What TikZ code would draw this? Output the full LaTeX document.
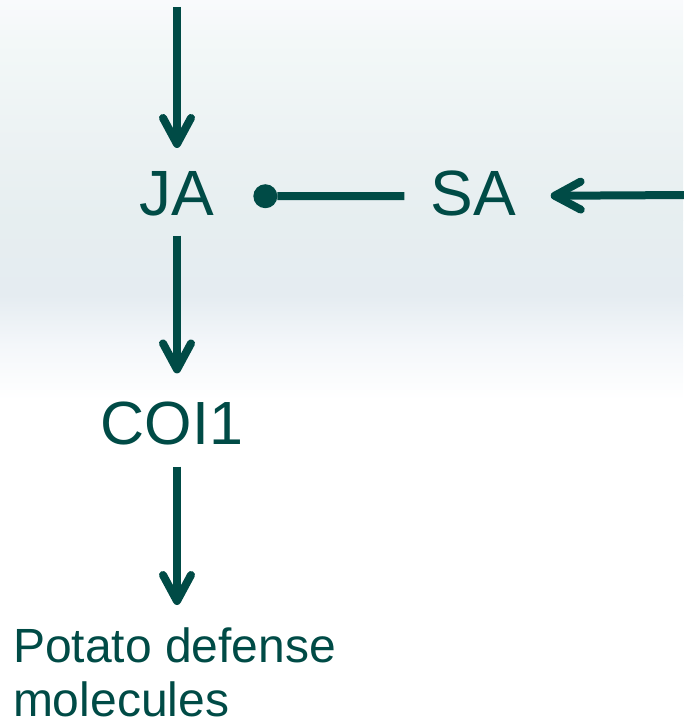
\documentclass[tikz,border=0pt]{standalone}
\usepackage{fontspec}
\setmainfont{Liberation Sans}
\usetikzlibrary{arrows.meta}
\definecolor{pathteal}{HTML}{004B46}
\definecolor{bgA}{HTML}{F9FAFC}
\definecolor{bgB}{HTML}{F3F8F8}
\definecolor{bgC}{HTML}{ECF2F3}
\definecolor{bgD}{HTML}{E6EEF0}
\definecolor{bgE}{HTML}{E5ECF1}
\definecolor{bgF}{HTML}{F4F7FA}
\begin{document}
\begin{tikzpicture}[x=1pt,y=-1pt,
  lbl/.style={text=pathteal, inner sep=0pt, outer sep=0pt, font=\fontsize{64}{70}\selectfont},
  conn/.style={draw=pathteal, line width=8pt},
  act/.style={conn, -{Straight Barb[length=26pt,width=28pt,round]}},
  inh/.style={conn, {Circle[length=24pt,width=24pt,line width=0pt]}-}]
  % soft banded background
  \useasboundingbox (0,0) rectangle (683,725);
  \fill[white] (0,0) rectangle (683,725);
  \shade[top color=bgA, bottom color=bgB] (0,0) rectangle (683,40);
  \shade[top color=bgB, bottom color=bgC] (0,40) rectangle (683,140);
  \shade[top color=bgC, bottom color=bgD] (0,140) rectangle (683,220);
  \shade[top color=bgD, bottom color=bgE] (0,220) rectangle (683,295);
  \shade[top color=bgE, bottom color=bgF] (0,295) rectangle (683,345);
  \shade[top color=bgF, bottom color=white] (0,345) rectangle (683,400);

  % labels
  \node[lbl, anchor=base] (JA) at (177,215) {JA};
  \node[lbl, anchor=base] (SA) at (473,215) {SA};
  \node[lbl, anchor=base, font=\fontsize{61}{67}\selectfont] (COI) at (172,444) {COI1};
  \node[lbl, anchor=north west, align=left, font=\fontsize{48}{54}\selectfont] (POT) at (13,628) {Potato defense\\molecules};

  % free ends of the incoming arrows
  \coordinate (topin) at (177,7);
  \coordinate (rightin) at (690,195);

  % connectors
  \draw[act, shorten >=23pt] (topin) -- (JA.north);
  \draw[act, shorten <=20pt, shorten >=28pt] (JA.south) -- (JA.south |- COI.north);
  \draw[act, shorten <=22pt, shorten >=23pt] (JA.south |- COI.south) -- (JA.south |- POT.north);
  \draw[inh, shorten <=39pt, shorten >=26pt] ([yshift=-3pt]JA.east) -- ([yshift=-3pt]SA.west);
  \draw[act, shorten >=35pt] (rightin) -- ([yshift=-3pt]SA.east);
\end{tikzpicture}
\end{document}
